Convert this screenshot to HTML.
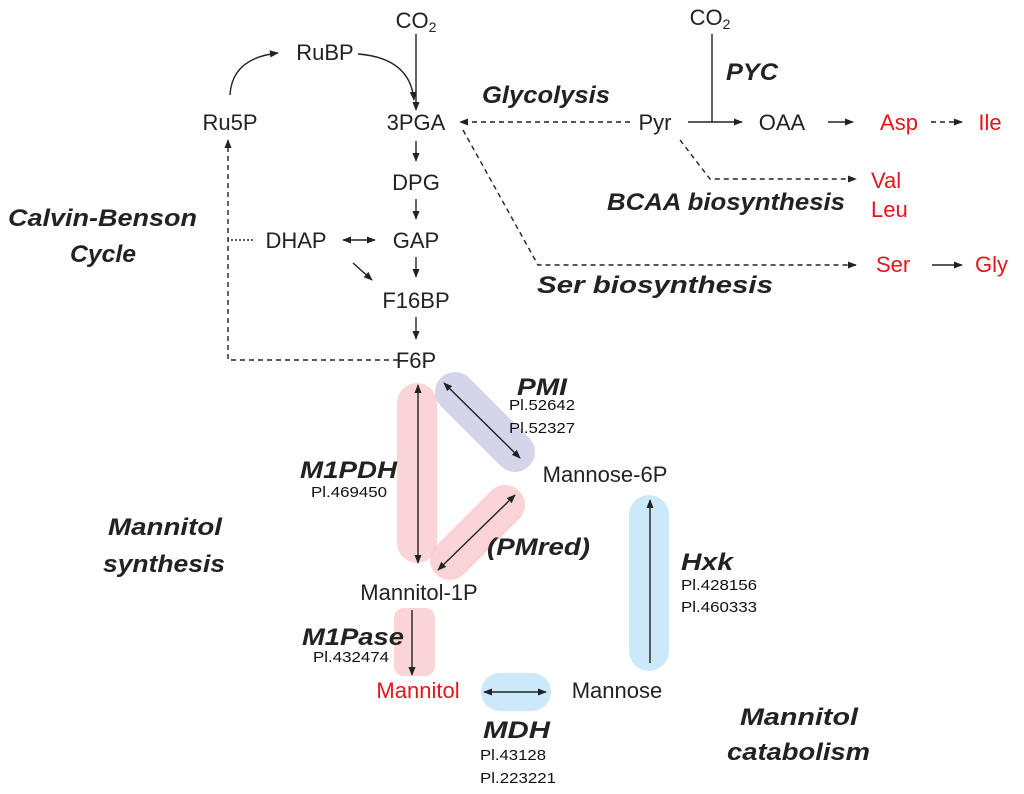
<!DOCTYPE html>
<html><head><meta charset="utf-8"><style>
html,body{margin:0;padding:0;background:#fff}
svg{display:block}
text{font-family:"Liberation Sans",sans-serif}
.n{font-size:22px;fill:#222}
.r{font-size:22px;fill:#e8141c}
.b{font-size:24px;font-weight:bold;font-style:italic;fill:#222}
.p{font-size:15px;fill:#111}
</style></head><body>
<svg width="1024" height="794" viewBox="0 0 1024 794" xmlns="http://www.w3.org/2000/svg">
<defs>
<marker id="a" viewBox="0 0 10 10" refX="9" refY="5" markerWidth="9" markerHeight="9" orient="auto-start-reverse" markerUnits="userSpaceOnUse"><path d="M0,1 L10,5 L0,9 z" fill="#222"/></marker>
</defs>
<rect x="397" y="383" width="40" height="180" rx="20" fill="#f9c9cc" opacity="0.8"/>
<line x1="455" y1="392" x2="515" y2="452" stroke="#d4d4ea" stroke-width="40" stroke-linecap="round"/>
<line x1="505" y1="505" x2="450" y2="560" stroke="#f9c9cc" stroke-width="40" stroke-linecap="round" opacity="0.8"/>
<rect x="394" y="608" width="41" height="68" rx="10" fill="#f9c9cc" opacity="0.8"/>
<rect x="481" y="673" width="70" height="38" rx="19" fill="#cce9f9"/>
<rect x="629" y="495" width="40" height="176" rx="20" fill="#cce9f9"/>
<g stroke="#222" stroke-width="1.4" fill="none">
<line x1="416" y1="34" x2="416" y2="110" marker-end="url(#a)"/>
<path d="M358,54 Q410,58 414,100" marker-end="url(#a)"/>
<path d="M230,95 Q232,58 278,53" marker-end="url(#a)"/>
<path d="M398,360 L228,360 L228,140" stroke-dasharray="5,4" marker-end="url(#a)"/>
<path d="M253,240 L228,240" stroke-dasharray="2,2"/>
<line x1="343" y1="240" x2="375" y2="240" marker-start="url(#a)" marker-end="url(#a)"/>
<line x1="353" y1="263" x2="372" y2="280" marker-end="url(#a)"/>
<line x1="416" y1="141" x2="416" y2="161" marker-end="url(#a)"/>
<line x1="416" y1="199" x2="416" y2="219" marker-end="url(#a)"/>
<line x1="416" y1="257" x2="416" y2="277" marker-end="url(#a)"/>
<line x1="416" y1="317" x2="416" y2="339" marker-end="url(#a)"/>
<line x1="630" y1="122" x2="460" y2="122" stroke-dasharray="5,4" marker-end="url(#a)"/>
<path d="M463,130 L538,265 L856,265" stroke-dasharray="5,4" marker-end="url(#a)"/>
<path d="M680,140 L710,179 L856,179" stroke-dasharray="5,4" marker-end="url(#a)"/>
<line x1="712" y1="34" x2="712" y2="122"/>
<line x1="688" y1="122" x2="742" y2="122" marker-end="url(#a)"/>
<line x1="828" y1="122" x2="853" y2="122" marker-end="url(#a)"/>
<line x1="931" y1="122" x2="962" y2="122" stroke-dasharray="5,4" marker-end="url(#a)"/>
<line x1="932" y1="265" x2="962" y2="265" marker-end="url(#a)"/>
<line x1="418" y1="385" x2="418" y2="563" marker-start="url(#a)" marker-end="url(#a)"/>
<line x1="444" y1="383" x2="520" y2="458" marker-start="url(#a)" marker-end="url(#a)"/>
<line x1="515" y1="495" x2="438" y2="570" marker-start="url(#a)" marker-end="url(#a)"/>
<line x1="412" y1="610" x2="412" y2="675" marker-end="url(#a)"/>
<line x1="484" y1="692" x2="546" y2="692" marker-start="url(#a)" marker-end="url(#a)"/>
<line x1="650" y1="663" x2="650" y2="500" marker-end="url(#a)"/>
</g>
<g text-anchor="middle">
<text class="n" x="416" y="28">CO<tspan font-size="14" dy="4">2</tspan></text>
<text class="n" x="710" y="25">CO<tspan font-size="14" dy="4">2</tspan></text>
<text class="n" x="325" y="60">RuBP</text>
<text class="n" x="230" y="130">Ru5P</text>
<text class="n" x="416" y="130">3PGA</text>
<text class="n" x="416" y="190">DPG</text>
<text class="n" x="296" y="248">DHAP</text>
<text class="n" x="416" y="248">GAP</text>
<text class="n" x="416" y="308">F16BP</text>
<text class="n" x="416" y="368">F6P</text>
<text class="n" x="655" y="130">Pyr</text>
<text class="n" x="782" y="130">OAA</text>
<text class="r" x="899" y="130">Asp</text>
<text class="r" x="990" y="130">Ile</text>
<text class="n" x="605" y="482">Mannose-6P</text>
<text class="n" x="419" y="600">Mannitol-1P</text>
<text class="r" x="418" y="698">Mannitol</text>
<text class="n" x="617" y="698">Mannose</text>
</g>
<text class="r" x="871" y="188">Val</text>
<text class="r" x="871" y="217">Leu</text>
<text class="r" x="876" y="272">Ser</text>
<text class="r" x="975" y="272">Gly</text>
<g>
<text class="b" x="8" y="226" textLength="189" lengthAdjust="spacingAndGlyphs">Calvin-Benson</text>
<text class="b" x="70" y="262" textLength="66" lengthAdjust="spacingAndGlyphs">Cycle</text>
<text class="b" x="108" y="535" textLength="114" lengthAdjust="spacingAndGlyphs">Mannitol</text>
<text class="b" x="103" y="572" textLength="122" lengthAdjust="spacingAndGlyphs">synthesis</text>
<text class="b" x="740" y="725" textLength="118" lengthAdjust="spacingAndGlyphs">Mannitol</text>
<text class="b" x="727" y="760" textLength="143" lengthAdjust="spacingAndGlyphs">catabolism</text>
<text class="b" x="482" y="103" textLength="128" lengthAdjust="spacingAndGlyphs">Glycolysis</text>
<text class="b" x="726" y="80" textLength="52" lengthAdjust="spacingAndGlyphs">PYC</text>
<text class="b" x="607" y="210" textLength="238" lengthAdjust="spacingAndGlyphs">BCAA biosynthesis</text>
<text class="b" x="537" y="293" textLength="236" lengthAdjust="spacingAndGlyphs">Ser biosynthesis</text>
<text class="b" x="487" y="555" textLength="103" lengthAdjust="spacingAndGlyphs">(PMred)</text>
<text class="b" x="681" y="570" textLength="52" lengthAdjust="spacingAndGlyphs">Hxk</text>
<text class="b" x="517" y="395" textLength="50" lengthAdjust="spacingAndGlyphs">PMI</text>
<text class="b" x="300" y="478" textLength="97" lengthAdjust="spacingAndGlyphs">M1PDH</text>
<text class="b" x="302" y="645" textLength="102" lengthAdjust="spacingAndGlyphs">M1Pase</text>
<text class="b" x="483" y="738" textLength="67" lengthAdjust="spacingAndGlyphs">MDH</text>
<text class="p" x="509" y="410" textLength="66" lengthAdjust="spacingAndGlyphs">Pl.52642</text>
<text class="p" x="509" y="433" textLength="66" lengthAdjust="spacingAndGlyphs">Pl.52327</text>
<text class="p" x="311" y="497" textLength="76" lengthAdjust="spacingAndGlyphs">Pl.469450</text>
<text class="p" x="313" y="662" textLength="76" lengthAdjust="spacingAndGlyphs">Pl.432474</text>
<text class="p" x="480" y="760" textLength="66" lengthAdjust="spacingAndGlyphs">Pl.43128</text>
<text class="p" x="480" y="783" textLength="76" lengthAdjust="spacingAndGlyphs">Pl.223221</text>
<text class="p" x="681" y="590" textLength="76" lengthAdjust="spacingAndGlyphs">Pl.428156</text>
<text class="p" x="681" y="612" textLength="76" lengthAdjust="spacingAndGlyphs">Pl.460333</text>
</g>
</svg>
</body></html>
